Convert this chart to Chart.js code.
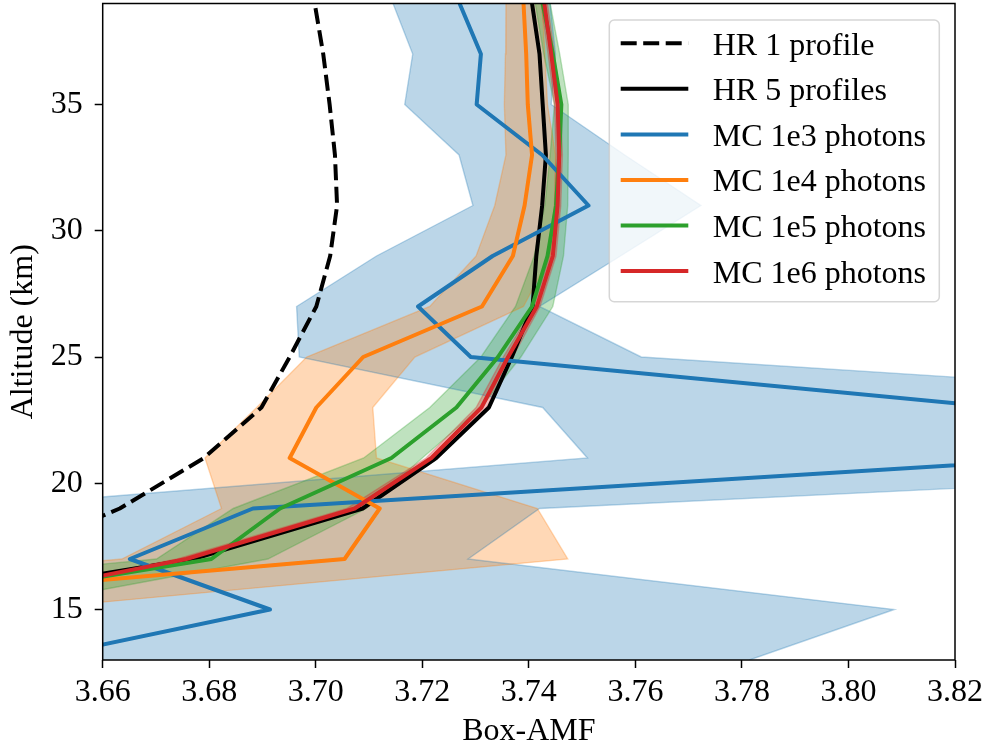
<!DOCTYPE html>
<html>
<head>
<meta charset="utf-8">
<script src="https://cdn.jsdelivr.net/npm/chart.js@4.4.0/dist/chart.umd.min.js"></script>
<style>
html,body{margin:0;padding:0;background:#fff;}
canvas{display:block;}
</style>
</head>
<body>
<canvas id="c" width="987" height="746"></canvas>
<script>
// ---------------- data ----------------
const altitudes = [13, 15, 17, 19, 21, 23, 25, 27, 29, 31, 33, 35, 37, 39];

const hr1Profile  = [3.600, 3.620, 3.641, 3.6632, 3.6790, 3.6898, 3.6951, 3.7001, 3.7027, 3.7040, 3.7036, 3.7026, 3.7014, 3.6998];
const hr5Profiles = [3.580, 3.618, 3.6770, 3.7088, 3.7226, 3.7325, 3.7368, 3.7407, 3.7414, 3.7425, 3.7432, 3.7426, 3.7420, 3.7406];

const mc1e3     = [3.6462, 3.6914, 3.6651, 3.6882, 3.8423, 3.8286, 3.7291, 3.7192, 3.7332, 3.7512, 3.7425, 3.7302, 3.7310, 3.7270];
const mc1e3Low  = [3.550, 3.570, 3.600, 3.633, 3.7510, 3.7426, 3.6969, 3.6964, 3.7114, 3.7295, 3.7269, 3.7167, 3.7182, 3.7145];
const mc1e3High = [3.7814, 3.8086, 3.7286, 3.7420, 3.9377, 3.9088, 3.7611, 3.7420, 3.7572, 3.7723, 3.7580, 3.7442, 3.7450, 3.7440];

const mc1e4     = [3.580, 3.5965, 3.7054, 3.7120, 3.6951, 3.7001, 3.7089, 3.7312, 3.7370, 3.7392, 3.7406, 3.7398, 3.7395, 3.7390];
const mc1e4Low  = [3.500, 3.559, 3.6636, 3.6823, 3.6792, 3.6889, 3.6983, 3.7214, 3.7301, 3.7336, 3.7357, 3.7354, 3.7356, 3.7357];
const mc1e4High = [3.600, 3.645, 3.7473, 3.7416, 3.7114, 3.7107, 3.7186, 3.7390, 3.7440, 3.7450, 3.7450, 3.7435, 3.7430, 3.7425];

const mc1e5     = [3.600, 3.6218, 3.6804, 3.6933, 3.7142, 3.7264, 3.7342, 3.7406, 3.7435, 3.7451, 3.7457, 3.7461, 3.7445, 3.7426];
const mc1e5Low  = [3.560, 3.570, 3.6701, 3.6845, 3.7090, 3.7214, 3.7310, 3.7375, 3.7410, 3.7430, 3.7440, 3.7448, 3.7428, 3.7412];
const mc1e5High = [3.620, 3.640, 3.6910, 3.7095, 3.7200, 3.7310, 3.7385, 3.7445, 3.7465, 3.7473, 3.7474, 3.7474, 3.7458, 3.7440];

const mc1e6     = [3.585, 3.628, 3.6757, 3.7073, 3.7217, 3.7311, 3.7361, 3.7415, 3.7445, 3.7454, 3.7457, 3.7454, 3.7442, 3.7429];
const mc1e6Low  = [3.583, 3.626, 3.6740, 3.7058, 3.7207, 3.7301, 3.7352, 3.7409, 3.7439, 3.7448, 3.7451, 3.7448, 3.7436, 3.7423];
const mc1e6High = [3.587, 3.630, 3.6774, 3.7088, 3.7227, 3.7321, 3.7370, 3.7421, 3.7451, 3.7460, 3.7463, 3.7460, 3.7448, 3.7435];

const seriesLabels = ['HR 1 profile', 'HR 5 profiles', 'MC 1e3 photons', 'MC 1e4 photons', 'MC 1e5 photons', 'MC 1e6 photons'];

const xTicks = [3.66, 3.68, 3.70, 3.72, 3.74, 3.76, 3.78, 3.80, 3.82];
const xTickLabels = ['3.66', '3.68', '3.70', '3.72', '3.74', '3.76', '3.78', '3.80', '3.82'];
const yTicks = [15, 20, 25, 30, 35];
const yTickLabels = ['15', '20', '25', '30', '35'];

// ---------------- styling ----------------
const FONT_FAMILY = '"Liberation Serif", "Times New Roman", Times, serif';
const FONT_SIZE = 32;
const BLUE = [31, 119, 180], ORANGE = [255, 127, 14], GREEN = [44, 160, 44], RED = [214, 39, 40];
const rgba = (c, a) => `rgba(${c[0]},${c[1]},${c[2]},${a})`;
const LW = 4;
const DASH = [16, 6.5];

const pts = vals => vals.map((v, i) => ({x: v, y: altitudes[i]}));

function lineDs(label, vals, color, order, dash) {
  return {
    label, data: pts(vals), borderColor: color, backgroundColor: color,
    borderWidth: LW, borderDash: dash || [], fill: false, order,
    pointRadius: 0, pointHoverRadius: 0, clip: 0, tension: 0,
    borderCapStyle: 'butt', borderJoinStyle: 'round'
  };
}
function bandDs(lo, hi, c, order) {
  return [
    {label: '_lo', data: pts(lo), borderColor: rgba(c, 0.3), borderWidth: 1.4, fill: false,
     order, pointRadius: 0, clip: 0, tension: 0},
    {label: '_hi', data: pts(hi), borderColor: rgba(c, 0.3), borderWidth: 1.4,
     backgroundColor: rgba(c, 0.3), fill: '-1', order, pointRadius: 0, clip: 0, tension: 0}
  ];
}

const datasets = [
  ...bandDs(mc1e3Low, mc1e3High, BLUE, 9),
  ...bandDs(mc1e4Low, mc1e4High, ORANGE, 8),
  ...bandDs(mc1e5Low, mc1e5High, GREEN, 7),
  ...bandDs(mc1e6Low, mc1e6High, RED, 6),
  lineDs(seriesLabels[0], hr1Profile, '#000000', 5, DASH),
  lineDs(seriesLabels[1], hr5Profiles, '#000000', 4),
  lineDs(seriesLabels[2], mc1e3, rgba(BLUE, 1), 3),
  lineDs(seriesLabels[3], mc1e4, rgba(ORANGE, 1), 2),
  lineDs(seriesLabels[4], mc1e5, rgba(GREEN, 1), 1),
  lineDs(seriesLabels[5], mc1e6, rgba(RED, 1), 0)
];

const legendEntries = [
  {label: seriesLabels[0], color: '#000000', dash: DASH},
  {label: seriesLabels[1], color: '#000000', dash: []},
  {label: seriesLabels[2], color: rgba(BLUE, 1), dash: []},
  {label: seriesLabels[3], color: rgba(ORANGE, 1), dash: []},
  {label: seriesLabels[4], color: rgba(GREEN, 1), dash: []},
  {label: seriesLabels[5], color: rgba(RED, 1), dash: []}
];

function roundRectPath(ctx, x, y, w, h, r) {
  ctx.beginPath();
  ctx.moveTo(x + r, y);
  ctx.lineTo(x + w - r, y);
  ctx.arcTo(x + w, y, x + w, y + r, r);
  ctx.lineTo(x + w, y + h - r);
  ctx.arcTo(x + w, y + h, x + w - r, y + h, r);
  ctx.lineTo(x + r, y + h);
  ctx.arcTo(x, y + h, x, y + h - r, r);
  ctx.lineTo(x, y + r);
  ctx.arcTo(x, y, x + r, y, r);
  ctx.closePath();
}

const framePlugin = {
  id: 'frameAndLegend',
  afterDatasetsDraw(chart) {
    const {ctx, chartArea: a} = chart;
    ctx.save();
    // spines
    ctx.strokeStyle = '#000';
    ctx.lineWidth = 1.5;
    ctx.setLineDash([]);
    ctx.strokeRect(a.left, a.top, a.right - a.left, a.bottom - a.top);

    // legend box
    const bx = a.right - 15.7, by = a.top + 16.5;
    const bw = 330, bh = 281.7;
    roundRectPath(ctx, bx - bw, by, bw, bh, 5);
    ctx.fillStyle = 'rgba(255,255,255,0.8)';
    ctx.fill();
    ctx.strokeStyle = 'rgba(204,204,204,0.8)';
    ctx.lineWidth = 1.5;
    ctx.stroke();

    const x0 = bx - bw + 11.4, x1 = x0 + 67.6, tx = bx - bw + 103.4;
    ctx.font = `${FONT_SIZE}px ${FONT_FAMILY}`;
    ctx.textBaseline = 'alphabetic';
    ctx.textAlign = 'left';
    legendEntries.forEach((e, i) => {
      const yy = by + 23.3 + i * 45.55;
      ctx.beginPath();
      ctx.setLineDash(e.dash);
      ctx.lineDashOffset = 0;
      ctx.strokeStyle = e.color;
      ctx.lineWidth = LW;
      ctx.lineCap = 'butt';
      ctx.moveTo(x0, yy);
      ctx.lineTo(x1, yy);
      ctx.stroke();
      ctx.setLineDash([]);
      ctx.fillStyle = '#000';
      ctx.fillText(e.label, tx, yy + 11.5);
    });
    ctx.restore();
  }
};

const tickFont = {family: FONT_FAMILY, size: FONT_SIZE};

new Chart(document.getElementById('c').getContext('2d'), {
  type: 'line',
  data: {datasets},
  options: {
    indexAxis: 'y',
    responsive: false,
    maintainAspectRatio: false,
    animation: false,
    devicePixelRatio: 1,
    layout: {padding: {top: 3.5, right: 32, left: 0, bottom: 0}},
    events: [],
    plugins: {
      legend: {display: false},
      tooltip: {enabled: false},
      filler: {drawTime: 'beforeDatasetsDraw', propagate: false}
    },
    scales: {
      x: {
        type: 'linear', position: 'bottom', min: 3.66, max: 3.82,
        afterBuildTicks: s => { s.ticks = xTicks.map(v => ({value: v})); },
        afterFit: s => { s.height = 86; s.paddingLeft = 0; s.paddingRight = 0; },
        ticks: {
          callback: v => xTickLabels[xTicks.findIndex(t => Math.abs(t - v) < 1e-9)],
          font: tickFont, color: '#000', padding: 5, maxRotation: 0, minRotation: 0, autoSkip: false
        },
        grid: {display: true, drawOnChartArea: false, drawTicks: true, tickLength: 8,
               tickWidth: 1.5, tickColor: '#000', color: '#000'},
        border: {display: false},
        title: {display: true, text: 'Box-AMF', font: tickFont, color: '#000', padding: {top: 0, bottom: -4.5}}
      },
      y: {
        type: 'linear', position: 'left', min: 13, max: 39,
        afterBuildTicks: s => { s.ticks = yTicks.map(v => ({value: v})); },
        afterFit: s => { s.width = 102.7; s.paddingTop = 0; s.paddingBottom = 0; },
        ticks: {
          callback: v => yTickLabels[yTicks.indexOf(v)],
          font: tickFont, color: '#000', padding: 12, autoSkip: false
        },
        grid: {display: true, drawOnChartArea: false, drawTicks: true, tickLength: 8,
               tickWidth: 1.5, tickColor: '#000', color: '#000'},
        border: {display: false},
        title: {display: true, text: 'Altitude (km)', font: tickFont, color: '#000', padding: {top: 4, bottom: 0}}
      }
    }
  },
  plugins: [framePlugin]
});
</script>
</body>
</html>
